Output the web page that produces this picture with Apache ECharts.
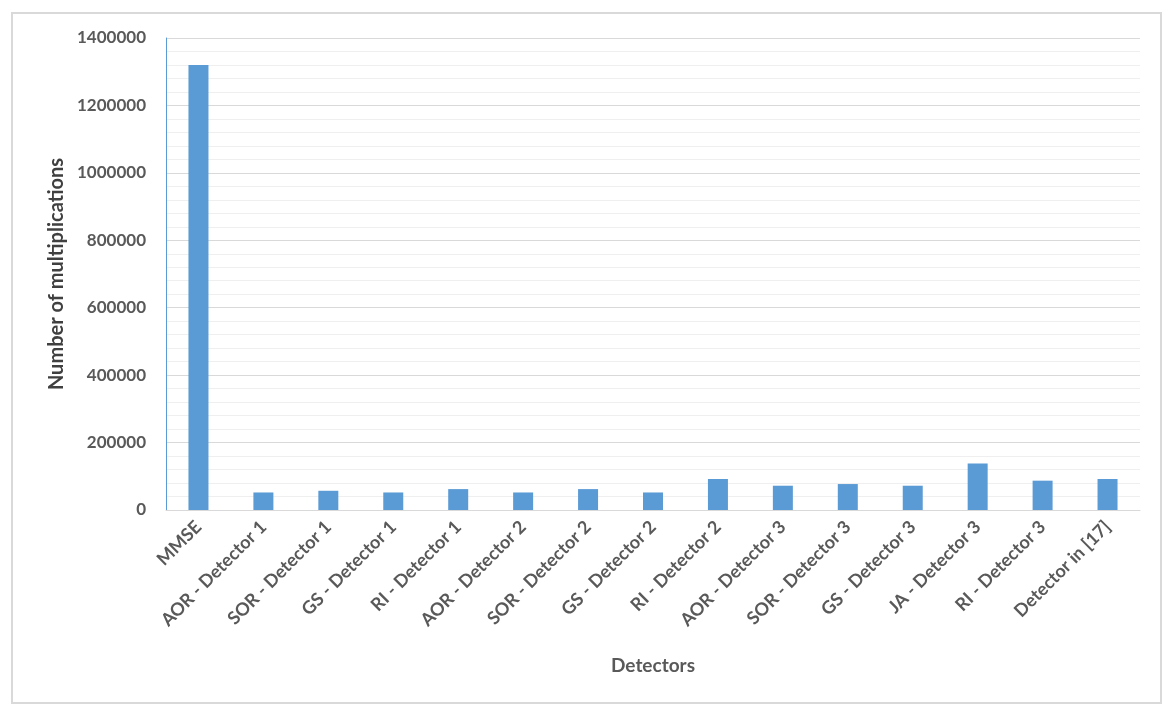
<!DOCTYPE html>
<html>
<head>
<meta charset="utf-8">
<script src="https://cdn.jsdelivr.net/npm/echarts@6/dist/echarts.min.js"></script>
<style>
html,body{margin:0;padding:0;background:#fff;}
#chart{width:1172px;height:718px;}
</style>
</head>
<body>
<div id="chart"></div>
<script>
const categories = ['MMSE','AOR - Detector 1','SOR - Detector 1','GS - Detector 1','RI - Detector 1','AOR - Detector 2','SOR - Detector 2','GS - Detector 2','RI - Detector 2','AOR - Detector 3','SOR - Detector 3','GS - Detector 3','JA - Detector 3','RI - Detector 3','Detector in [17]'];
const multiplications = [1320000, 52000, 57000, 52000, 62000, 52000, 62000, 52000, 92000, 72000, 77000, 72000, 138000, 87000, 92000];
const yTicks = [0, 200000, 400000, 600000, 800000, 1000000, 1200000, 1400000];

const chart = echarts.init(document.getElementById('chart'));
const font = "Lato, 'Open Sans', sans-serif";
chart.setOption({
  animation: false,
  backgroundColor: '#fff',
  graphic: [{
    type: 'rect',
    shape: {x: 12, y: 13, width: 1149, height: 690},
    style: {fill: 'none', stroke: '#d9d9d9', lineWidth: 2},
    silent: true
  }],
  grid: {left: 166, right: 32, top: 38, bottom: 208},
  xAxis: {
    type: 'category',
    data: categories,
    name: 'Detectors',
    nameLocation: 'middle',
    nameGap: 146,
    nameTextStyle: {fontFamily: font, fontWeight: 'bold', fontSize: 19, color: '#595959'},
    axisLine: {lineStyle: {color: '#d9d9d9', width: 1}},
    axisTick: {show: false},
    axisLabel: {rotate: 45, margin: 14, fontFamily: font, fontWeight: 'bold', fontSize: 18, color: '#595959', interval: 0}
  },
  yAxis: {
    type: 'value',
    min: yTicks[0],
    max: yTicks[yTicks.length - 1],
    interval: 200000,
    name: 'Number of multiplications',
    nameLocation: 'middle',
    nameGap: 98,
    nameTextStyle: {fontFamily: font, fontWeight: 'bold', fontSize: 20, color: '#404040'},
    axisLine: {show: true, lineStyle: {color: '#5b9bd5', width: 1}},
    axisTick: {show: false},
    axisLabel: {margin: 20, fontFamily: font, fontWeight: 'bold', fontSize: 17, color: '#595959', formatter: v => String(v)},
    splitLine: {lineStyle: {color: '#d9d9d9', width: 1}},
    minorTick: {show: false, splitNumber: 5},
    minorSplitLine: {show: true, lineStyle: {color: '#efefef', width: 1}}
  },
  series: [{
    type: 'bar',
    data: multiplications,
    barWidth: 20,
    itemStyle: {color: '#5b9bd5'}
  }]
});
</script>
</body>
</html>
